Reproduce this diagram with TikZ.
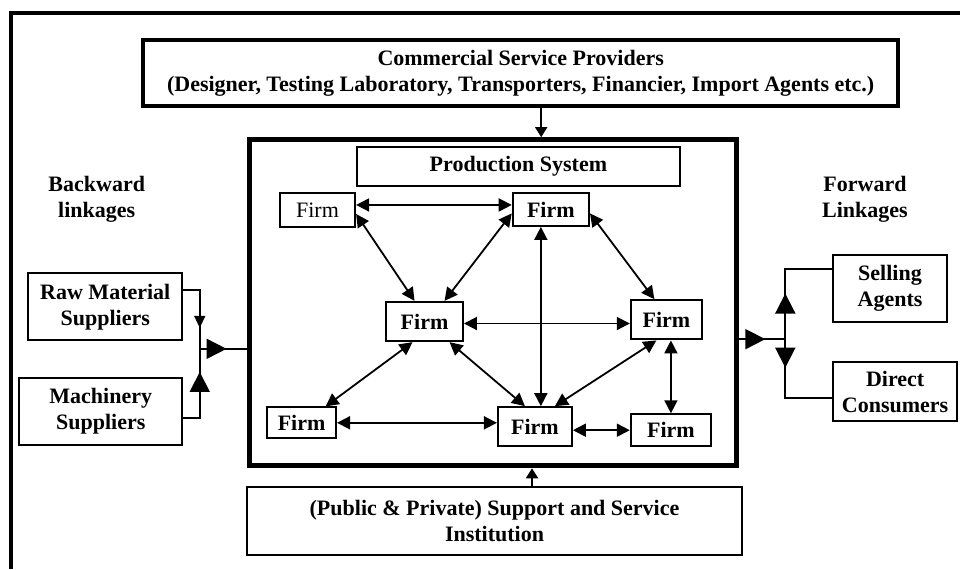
\documentclass[tikz,border=0pt]{standalone}
\usepackage{fontspec}
\setmainfont{Liberation Serif}
\usepackage{tikz}
\usetikzlibrary{arrows.meta}
\usetikzlibrary{decorations.markings}
\tikzstyle{cluster}=[line width=0.9pt, font=\fontsize{11}{13}\selectfont\bfseries]
\tikzstyle{frame}=[line width=2pt]
\tikzstyle{provider}=[draw, line width=2pt, align=center, minimum width=13.27cm, minimum height=1.16cm, inner sep=0pt]
\tikzstyle{prodsys}=[draw, line width=2.5pt, minimum width=8.56cm, minimum height=5.73cm]
\tikzstyle{box}=[draw, line width=1pt, align=center, inner sep=0pt]
\tikzstyle{firm}=[box, minimum height=0.69cm]
\tikzstyle{plain}=[font=\fontsize{11}{13}\selectfont]
\tikzstyle{link}=[align=center]
\tikzstyle{edge}=[{Triangle[length=6.5pt,width=6.5pt]}-{Triangle[length=6.5pt,width=6.5pt]}]
\tikzstyle{feed}=[-{Triangle[length=5pt,width=6pt]}]
\tikzset{
	bigtip/.style={postaction={decorate}, decoration={markings,
		mark=at position #1 with {\arrow{Triangle[length=10pt,width=10pt]}}}},
	smalltip/.style={postaction={decorate}, decoration={markings,
		mark=at position #1 with {\arrow{Triangle[length=6pt,width=5.5pt]}}}}
}

\begin{document}
\begin{tikzpicture}[cluster]
	\useasboundingbox (0,0) rectangle (16.87,10);
	%outer frame, left and top sides only
	\draw[frame] (0.19,0) -- (0.19,9.77) -- (16.87,9.77);
	
	\node[provider] (comm) at (9.15,8.72) {Commercial Service Providers\\(Designer, Testing Laboratory, Transporters, Financier, Import Agents etc.)};
	\node[prodsys] (prod) at (8.66,4.68) {};
	\node[box, minimum width=5.68cm, minimum height=0.69cm] (ps) at (9.11,7.07) {Production System};
	\node[box, minimum width=8.70cm, minimum height=1.20cm] (support) at (8.69,0.84) {(Public \& Private) Support and Service\\Institution};
	
	\draw[feed] ([xshift=10.25pt]comm.south) -- ([xshift=10.25pt]comm.south |- prod.north);
	\draw[feed] ([xshift=18.75pt]support.north) -- ([xshift=18.75pt]support.north |- prod.south);
	
	%firms of the cluster
	\draw (5.58,6.31) node[firm, plain, minimum width=1.32cm, minimum height=0.60cm] (f1) {Firm};
	\draw (9.68,6.32) node[firm, minimum width=1.34cm, minimum height=0.58cm] (f2) {Firm};
	\draw (7.46,4.35) node[firm, minimum width=1.35cm] (f3) {Firm};
	\draw (11.71,4.38) node[firm, minimum width=1.25cm] (f4) {Firm};
	\draw (5.30,2.57) node[firm, minimum width=1.21cm, minimum height=0.54cm] (f5) {Firm};
	\draw (9.40,2.50) node[firm, minimum width=1.30cm] (f6) {Firm};
	\draw (11.79,2.44) node[firm, minimum width=1.41cm, minimum height=0.56cm] (f7) {Firm};
	
	\draw[edge] ([yshift=2.5pt]f1.east) -- ([yshift=2.5pt]f1.east -| f2.west);
	\draw[edge] ([yshift=-2pt]f1.east) -- ([xshift=-5pt]f3.north);
	\draw[edge] ([yshift=-2pt]f2.west) -- ([xshift=10pt]f3.north);
	\draw[edge] ([yshift=-2pt]f2.east) -- ([xshift=-6pt]f4.north);
	\draw[edge] ([xshift=-5pt]f2.south) -- ([xshift=-5pt]f2.south |- f6.north);
	\draw[edge] ([yshift=-1pt]f3.east) -- ([yshift=-1pt]f3.east -| f4.west);
	\draw[edge] ([xshift=-6pt]f3.south) -- ([xshift=12pt]f5.north);
	\draw[edge] ([xshift=12.5pt]f3.south) -- ([xshift=-5pt]f6.north);
	\draw[edge] ([xshift=-5pt]f4.south) -- ([xshift=10pt]f6.north);
	\draw[edge] (f7.north |- f4.south) -- (f7.north);
	\draw[edge] (f5.east) -- (f5.east -| f6.west);
	\draw[edge] (f7.west -| f6.east) -- (f7.west);
	
	%backward linkages
	\node[link] (back) at (1.70,6.49) {Backward\\linkages};
	\node[box, minimum width=2.71cm, minimum height=1.18cm] (raw) at (1.85,4.61) {Raw Material\\Suppliers};
	\node[box, minimum width=2.86cm, minimum height=1.18cm] (mach) at (1.77,2.77) {Machinery\\Suppliers};
	\coordinate (jl) at (3.51,3.87);
	\draw[smalltip=0.72] ([yshift=8.25pt]raw.east) -| (jl);
	\draw[bigtip=0.73] ([yshift=-3.25pt]mach.east) -| (jl);
	\draw[bigtip=0.57] (jl) -- (jl -| prod.west);
	
	%forward linkages
	\node[link] (fwd) at (15.20,6.49) {Forward\\Linkages};
	\node[box, minimum width=2.00cm, minimum height=1.18cm] (sell) at (15.64,4.93) {Selling\\Agents};
	\node[box, minimum width=2.18cm, minimum height=1.04cm] (cons) at (15.73,3.12) {Direct\\Consumers};
	\coordinate (jr) at (13.80,4.04);
	\draw[bigtip=0.57] (jr -| prod.east) -- (jr);
	\draw[bigtip=0.39] (jr) |- ([yshift=9.75pt]sell.west);
	\draw[bigtip=0.27] (jr) |- ([yshift=-3.25pt]cons.west);
\end{tikzpicture}
\end{document}
